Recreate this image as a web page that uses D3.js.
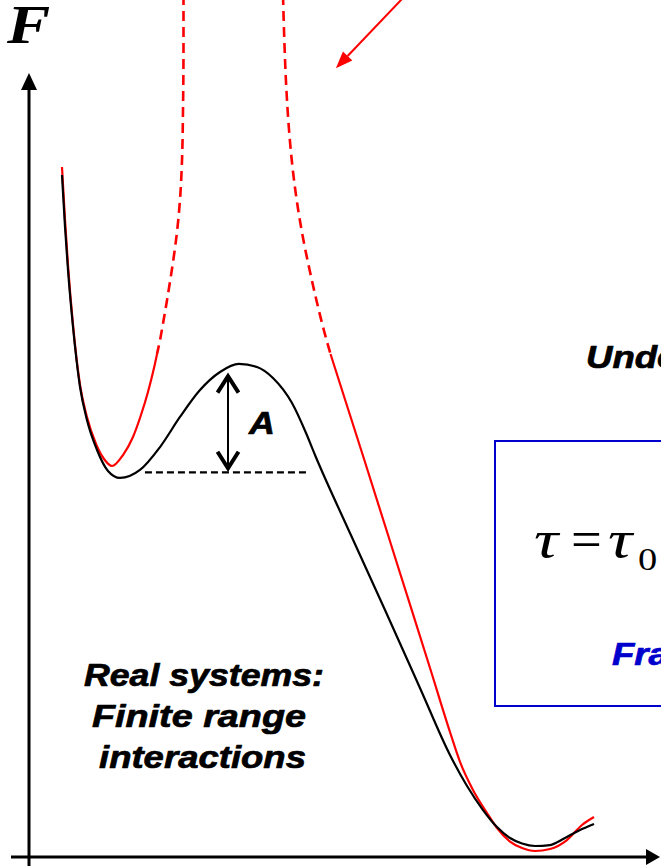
<!DOCTYPE html>
<html>
<head>
<meta charset="utf-8">
<script src="https://cdn.jsdelivr.net/npm/d3@7"></script>
<style>
html,body{margin:0;padding:0;background:#fff;overflow:hidden}
svg{display:block}
</style>
</head>
<body>
<svg id="chart" width="661" height="866"></svg>
<script>
// ---------- DATA (reaction coordinate x, free energy F; schematic units) ----------
// Real system (finite-range interactions) - black curve
const realX = [0.532,0.581,0.629,0.710,0.823,0.935,1.097,1.274,1.468,1.790,2.113,2.435,2.758,3.081,3.387,3.677,3.935,4.242,4.468,4.613,5.177,5.742,6.306,6.790,7.065,7.323,7.548,7.758,7.952,8.161,8.403,8.645,8.887,9.113];
const realF = [8.697,8.033,7.484,6.756,5.990,5.568,5.185,4.917,4.828,4.930,5.223,5.607,5.951,6.181,6.284,6.245,6.105,5.785,5.402,5.121,4.125,3.142,2.146,1.290,0.894,0.587,0.370,0.230,0.160,0.128,0.140,0.230,0.332,0.409];

// Mean-field branches - red curves
const mfLeftSolidX = [0.532,0.581,0.629,0.710,0.823,0.935,1.081,1.210,1.339,1.516,1.677,1.806,1.919,2.016,2.065];
const mfLeftSolidF = [8.799,8.123,7.548,6.782,6.015,5.607,5.262,5.070,4.981,5.121,5.351,5.632,5.926,6.232,6.411];
const mfLeftDashX  = [2.492,2.492,2.484,2.468,2.435,2.387,2.323,2.258,2.177,2.097,2.065];
const mfLeftDashF  = [10.996,10.421,9.527,8.889,8.378,7.969,7.586,7.254,6.871,6.526,6.411];
const mfRightDashX = [4.097,4.118,4.152,4.194,4.255,4.342,4.426,4.526,4.635,4.755,4.863];
const mfRightDashF = [10.996,10.421,9.783,9.272,8.761,8.250,7.867,7.484,7.101,6.718,6.411];
const mfRightSolidX = [4.863,5.419,5.984,6.468,6.790,6.952,7.161,7.387,7.548,7.758,7.952,8.161,8.403,8.677,8.919,9.113];
const mfRightSolidF = [6.411,5.032,3.614,2.401,1.584,1.201,0.843,0.549,0.358,0.185,0.102,0.064,0.089,0.204,0.396,0.498];

// Barrier annotation: reference level (dashed) and barrier height arrow
const refLevelX = [1.87, 4.48];
const refLevelF = [4.90, 4.90];
const barrierArrowX = [3.21, 3.21];
const barrierArrowF = [6.16, 4.92];
// Pointer arrow (red) at top
const pointerX = [6.07, 4.95];
const pointerF = [10.99, 10.06];

// Text labels
const labelAxisF = "F";
const labelBarrier = "A";
const labelReal = ["Real systems:", "Finite range", "interactions"];
const labelUnder = "Undercooled";
const labelFormulaTau = "\u03C4";
const labelFormulaEq = "=";
const labelFormulaSub = "0";
const labelBlue = "Fragile";

// ---------- SCALES ----------
const svg = d3.select("#chart");
const x = d3.scaleLinear().domain([0, 10]).range([29, 649]);
const y = d3.scaleLinear().domain([0, 10]).range([856, 73]);

const zip = (a, b) => a.map((v, i) => [v, b[i]]);
const lineX = d3.line().x(d => x(d[0])).y(d => y(d[1])).curve(d3.curveMonotoneX);
const lineY = d3.line().x(d => x(d[0])).y(d => y(d[1])).curve(d3.curveMonotoneY);
const straight = d3.line().x(d => x(d[0])).y(d => y(d[1]));

// ---------- BLUE BOX ----------
const blue = "#0000CC";
svg.append("rect")
  .attr("x", 495).attr("y", 441).attr("width", 200).attr("height", 265)
  .attr("fill", "none").attr("stroke", blue).attr("stroke-width", 2);

// ---------- AXES ----------
const axes = svg.append("g");
axes.append("line").attr("x1", x(0)).attr("x2", x(0)).attr("y1", 866).attr("y2", 86)
  .attr("stroke", "#000").attr("stroke-width", 3);
axes.append("path").attr("d", `M${x(0)},73 L${x(0)-8},90 L${x(0)+8},90 Z`).attr("fill", "#000");
axes.append("line").attr("x1", 11).attr("x2", 650).attr("y1", y(0)+1).attr("y2", y(0)+1)
  .attr("stroke", "#000").attr("stroke-width", 3);
axes.append("path").attr("d", `M660,${y(0)+1} L646,${y(0)-7} L646,${y(0)+9} Z`).attr("fill", "#000");

// ---------- RED (mean-field) ----------
const red = "#FF0000";
svg.append("path").attr("d", lineX(zip(mfLeftSolidX, mfLeftSolidF)))
  .attr("fill", "none").attr("stroke", red).attr("stroke-width", 2.2);
svg.append("path").attr("d", lineY(zip(mfLeftDashX, mfLeftDashF)))
  .attr("fill", "none").attr("stroke", red).attr("stroke-width", 2.6).attr("stroke-dasharray", "10,6");
svg.append("path").attr("d", lineY(zip(mfRightDashX, mfRightDashF)))
  .attr("fill", "none").attr("stroke", red).attr("stroke-width", 2.6).attr("stroke-dasharray", "10,6");
svg.append("path").attr("d", lineX(zip(mfRightSolidX, mfRightSolidF)))
  .attr("fill", "none").attr("stroke", red).attr("stroke-width", 2.2);

// ---------- BLACK (real) ----------
svg.append("path").attr("d", lineX(zip(realX, realF)))
  .attr("fill", "none").attr("stroke", "#000").attr("stroke-width", 2.2);

// reference dashed level
svg.append("path").attr("d", straight(zip(refLevelX, refLevelF)))
  .attr("fill", "none").attr("stroke", "#000").attr("stroke-width", 2.2).attr("stroke-dasharray", "7,4");

// barrier double arrow
const ax = x(barrierArrowX[0]), ayT = y(barrierArrowF[0]), ayB = y(barrierArrowF[1]);
svg.append("line").attr("x1", ax).attr("x2", ax).attr("y1", ayT + 6).attr("y2", ayB - 6)
  .attr("stroke", "#000").attr("stroke-width", 2);
svg.append("path").attr("d", `M${ax-10.5},${ayT+19} L${ax},${ayT+2.5} L${ax+10.5},${ayT+19}`)
  .attr("fill", "none").attr("stroke", "#000").attr("stroke-width", 4);
svg.append("path").attr("d", `M${ax-10.5},${ayB-19} L${ax},${ayB-2.5} L${ax+10.5},${ayB-19}`)
  .attr("fill", "none").attr("stroke", "#000").attr("stroke-width", 4);

// red pointer arrow
const px0 = x(pointerX[0]), py0 = y(pointerF[0]), px1 = x(pointerX[1]), py1 = y(pointerF[1]);
const ang = Math.atan2(py1 - py0, px1 - px0);
const hl = 17, hw = 6.5;
const bx = px1 - hl * Math.cos(ang), by = py1 - hl * Math.sin(ang);
svg.append("line").attr("x1", px0).attr("y1", py0).attr("x2", bx).attr("y2", by)
  .attr("stroke", red).attr("stroke-width", 2);
svg.append("path").attr("d",
  `M${px1},${py1} L${bx + hw*Math.sin(ang)},${by - hw*Math.cos(ang)} L${bx - hw*Math.sin(ang)},${by + hw*Math.cos(ang)} Z`)
  .attr("fill", red);

// ---------- TEXT ----------
function addText(tx, ty, str, o) {
  const t = svg.append("text")
    .attr("transform", `translate(${tx},${ty}) scale(${o.sx || 1},1)`)
    .attr("font-family", o.family)
    .attr("font-size", o.size)
    .attr("font-style", o.style || "normal")
    .attr("font-weight", o.weight || "normal")
    .attr("fill", o.fill || "#000")
    .text(str);
  if (o.stroke) t.attr("stroke", o.fill || "#000").attr("stroke-width", o.stroke).attr("stroke-linejoin", "round");
  if (o.len) t.attr("textLength", o.len).attr("lengthAdjust", "spacingAndGlyphs");
  return t;
}
const serif = "'Liberation Serif', 'Times New Roman', serif";
const sans = "'Liberation Sans', Arial, sans-serif";
const bi = {family: sans, size: 31, style: "italic", weight: "bold", stroke: 0.7};

addText(7, 43, labelAxisF, {family: serif, size: 54, style: "italic", weight: "bold", sx: 1.2});
addText(249, 434, labelBarrier, Object.assign({}, bi, {size: 32, sx: 1.12}));

addText(84, 686, labelReal[0], Object.assign({}, bi, {len: 240}));
addText(92, 727, labelReal[1], Object.assign({}, bi, {len: 214}));
addText(99, 768, labelReal[2], Object.assign({}, bi, {len: 207}));

addText(586, 368, labelUnder, Object.assign({}, bi, {sx: 1.18}));

addText(534, 557, labelFormulaTau, {family: serif, size: 52, style: "italic", sx: 1.3});
addText(571, 557, labelFormulaEq, {family: serif, size: 52, sx: 1.05});
addText(608, 557, labelFormulaTau, {family: serif, size: 52, style: "italic", sx: 1.3});
addText(638, 570, labelFormulaSub, {family: serif, size: 32, sx: 1.2});

addText(612, 665, labelBlue, Object.assign({}, bi, {fill: blue, sx: 1.18}));
</script>
</body>
</html>
